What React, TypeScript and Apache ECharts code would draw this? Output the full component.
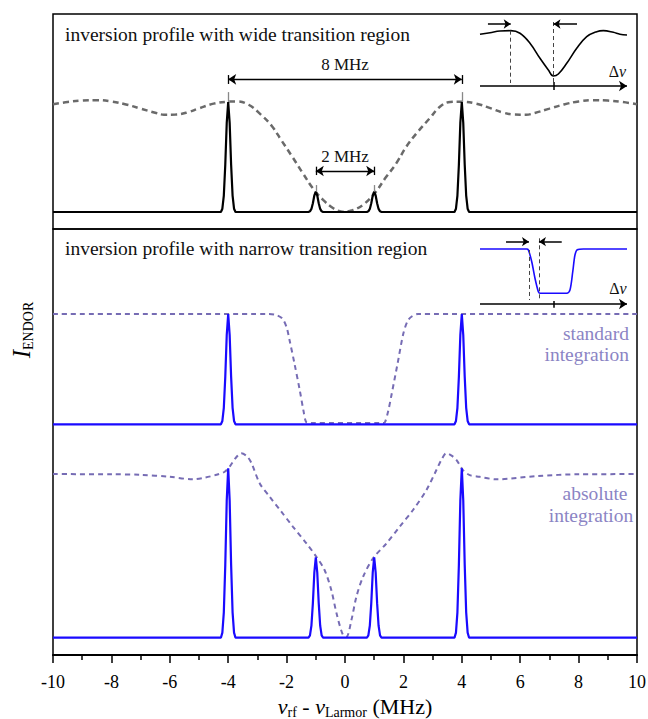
import React, { useEffect, useRef } from 'react';
import * as echarts from 'echarts';

const FONT = "'Liberation Serif', 'Times New Roman', serif";

// ENDOR spectra: [frequency offset (MHz), intensity]
const wideEndor: [number, number][] = [
  [-10, 0], [-4.25, 0], [-4.2, 0.03], [-4.15, 0.15], [-4.1, 0.43], [-4.05, 0.81], [-4, 1], [-3.95, 0.81], [-3.9, 0.43], [-3.85, 0.15], [-3.8, 0.03], [-3.75, 0],
  [-1.25, 0], [-1.2, 0.006], [-1.15, 0.028], [-1.1, 0.08], [-1.05, 0.15], [-1, 0.185], [-0.95, 0.15], [-0.9, 0.08], [-0.85, 0.028], [-0.8, 0.006], [-0.75, 0],
  [0.75, 0], [0.8, 0.006], [0.85, 0.028], [0.9, 0.08], [0.95, 0.15], [1, 0.185], [1.05, 0.15], [1.1, 0.08], [1.15, 0.028], [1.2, 0.006], [1.25, 0],
  [3.75, 0], [3.8, 0.03], [3.85, 0.15], [3.9, 0.43], [3.95, 0.81], [4, 1], [4.05, 0.81], [4.1, 0.43], [4.15, 0.15], [4.2, 0.03], [4.25, 0], [10, 0],
];

const narrowEndor: [number, number][] = [
  [-10, 0], [-4.25, 0], [-4.2, 0.03], [-4.15, 0.15], [-4.1, 0.43], [-4.05, 0.81], [-4, 1], [-3.95, 0.81], [-3.9, 0.43], [-3.85, 0.15], [-3.8, 0.03], [-3.75, 0],
  [3.75, 0], [3.8, 0.03], [3.85, 0.15], [3.9, 0.43], [3.95, 0.81], [4, 1], [4.05, 0.81], [4.1, 0.43], [4.15, 0.15], [4.2, 0.03], [4.25, 0], [10, 0],
];

const absoluteEndor: [number, number][] = [
  [-10, 0], [-4.25, 0], [-4.2, 0.03], [-4.15, 0.15], [-4.1, 0.43], [-4.05, 0.81], [-4, 1], [-3.95, 0.81], [-3.9, 0.43], [-3.85, 0.15], [-3.8, 0.03], [-3.75, 0],
  [-1.25, 0], [-1.2, 0.014], [-1.15, 0.071], [-1.1, 0.204], [-1.05, 0.385], [-1, 0.475], [-0.95, 0.385], [-0.9, 0.204], [-0.85, 0.071], [-0.8, 0.014], [-0.75, 0],
  [0.75, 0], [0.8, 0.014], [0.85, 0.071], [0.9, 0.204], [0.95, 0.385], [1, 0.475], [1.05, 0.385], [1.1, 0.204], [1.15, 0.071], [1.2, 0.014], [1.25, 0],
  [3.75, 0], [3.8, 0.03], [3.85, 0.15], [3.9, 0.43], [3.95, 0.81], [4, 1], [4.05, 0.81], [4.1, 0.43], [4.15, 0.15], [4.2, 0.03], [4.25, 0], [10, 0],
];

// Inversion profiles (dashed)
const wideProfile: [number, number][] = [
  [-10, 0.98], [-9.5, 1.0], [-9, 1.013], [-8.5, 1.017], [-8, 1.005], [-7.5, 0.978], [-7, 0.94], [-6.5, 0.902], [-6.2, 0.885], [-5.8, 0.886],
  [-5.4, 0.905], [-5, 0.942], [-4.5, 0.985], [-4, 1.003], [-3.7, 1.005], [-3.3, 0.975], [-2.9, 0.89], [-2.5, 0.78], [-2.2, 0.66], [-1.8, 0.5],
  [-1.45, 0.355], [-1.1, 0.215], [-0.75, 0.11], [-0.4, 0.034], [-0.1, 0.003], [0.25, 0.016], [0.6, 0.062], [1.0, 0.165], [1.4, 0.315], [1.75, 0.44],
  [2.1, 0.594], [2.45, 0.715], [2.9, 0.852], [3.25, 0.957], [3.6, 1.0], [4.0, 1.003], [4.5, 0.985], [5, 0.942], [5.4, 0.905], [5.8, 0.886],
  [6.2, 0.885], [6.5, 0.9], [7, 0.94], [7.5, 0.978], [8, 1.005], [8.5, 1.017], [9, 1.013], [9.5, 1.0], [10, 0.98],
];

const standardProfile: [number, number][] = [
  [-10, 1], [-2.6, 1], [-2.35, 0.99], [-2.15, 0.96], [-2.0, 0.88], [-1.9, 0.765], [-1.73, 0.55], [-1.55, 0.31], [-1.42, 0.12], [-1.33, 0.02],
  [-1.2, 0.012], [1.3, 0.012], [1.37, 0.02], [1.48, 0.12], [1.58, 0.25], [1.8, 0.55], [2.0, 0.825], [2.15, 0.94], [2.3, 0.98], [2.5, 1.0], [10, 1],
];

const absoluteProfile: [number, number][] = [
  [-10, 0.966], [-8, 0.965], [-7, 0.962], [-6, 0.95], [-5.2, 0.935], [-4.8, 0.945], [-4.4, 0.962], [-4.12, 0.98], [-3.95, 1.01], [-3.75, 1.06],
  [-3.55, 1.089], [-3.35, 1.07], [-3.2, 1.03], [-2.92, 0.911], [-2.58, 0.832], [-2.18, 0.744], [-1.78, 0.655], [-1.32, 0.557], [-0.98, 0.478], [-0.7, 0.4],
  [-0.47, 0.282], [-0.29, 0.144], [-0.07, 0.016], [0.05, 0.006], [0.22, 0.104], [0.39, 0.242], [0.62, 0.36], [0.96, 0.469], [1.42, 0.557], [1.87, 0.655],
  [2.33, 0.754], [2.79, 0.872], [3.13, 0.99], [3.3, 1.05], [3.47, 1.089], [3.65, 1.075], [3.82, 1.049], [4.04, 0.99], [4.27, 0.96], [4.61, 0.95],
  [5.2, 0.935], [6.6, 0.955], [8, 0.965], [10, 0.966],
];

// Inset sketches (arbitrary units 0..10)
const wideInset: [number, number][] = [
  [0, 7.74], [0.68, 7.96], [1.36, 8.19], [2.09, 8.24], [2.72, 7.88], [3.4, 6.49], [4.08, 4.4], [4.65, 2.78], [4.99, 1.94], [5.33, 2.22],
  [5.9, 3.71], [6.58, 5.79], [7.26, 7.4], [7.94, 8.1], [8.39, 8.24], [9.07, 8.01], [9.52, 7.74], [10, 7.64],
];

const narrowInset: [number, number][] = [
  [0, 8.19], [3.18, 8.19], [3.29, 8.06], [3.52, 6.43], [3.74, 4.13], [3.97, 2.26], [4.08, 2.04], [5.9, 2.04], [6.12, 2.5], [6.31, 5.04],
  [6.46, 7.36], [6.62, 8.1], [7.03, 8.19], [10, 8.19],
];

const panelTitles = ['inversion profile with wide transition region', 'inversion profile with narrow transition region'];
const spacingLabels = ['8 MHz', '2 MHz'];
const integrationLabels = [['standard', 'integration'], ['absolute', 'integration']];

const BLUE = '#1a0aff';
const PURPLE = '#766cb4';
const PURPLE_TEXT = '#8b84c4';
const GRAY = '#6a6a6a';

const seg = (x1: number, y1: number, x2: number, y2: number, style: any, start = 'none', end = 'none', size = 8) => [
  { coord: [x1, y1], symbol: start, symbolSize: size, lineStyle: style },
  { coord: [x2, y2], symbol: end, symbolSize: size, lineStyle: style },
];

const mk = (data: any[]) => ({
  silent: true,
  symbol: ['none', 'none'],
  label: { show: false },
  emphasis: { disabled: true },
  animation: false,
  data,
});

export default function App() {
  const ref = useRef<HTMLDivElement>(null);
  useEffect(() => {
    if (!ref.current) return;
    const chart = echarts.init(ref.current, null, { renderer: 'svg' });
    const solid = { color: '#000', width: 1.3, type: 'solid' };
    const conn = { color: '#888', width: 1.3, type: 'solid' };
    const guide = { color: '#444', width: 1, type: [4, 3] };
    const axisSt = { color: '#000', width: 1.5, type: 'solid' };

    const hiddenX = (g: number, min: number, max: number) => ({ type: 'value', gridIndex: g, min, max, show: false });
    const hiddenY = (g: number, min: number, max: number) => ({ type: 'value', gridIndex: g, min, max, show: false });

    const txt = (x: number, y: number, text: string, size: number, fill: string, align: string) => ({
      type: 'text', x, y, silent: true,
      style: { text, fill, fontFamily: FONT, fontSize: size, align, verticalAlign: 'middle', textAlign: align, textVerticalAlign: 'middle' },
    });

    const g = (left: number, top: number, width: number, height: number, show: boolean) => ({
      left, top, width, height, show, containLabel: false, outerBoundsMode: 'none',
      borderColor: '#000', borderWidth: 1.5, backgroundColor: 'transparent',
    });

    const option: any = {
      animation: false,
      textStyle: { fontFamily: FONT },
      grid: [
        g(53, 14, 584, 215, true),
        g(53, 229, 584, 426, true),
        g(53, 229, 584, 426, false),
        g(480, 18, 147, 72, false),
        g(480, 236, 147, 72, false),
      ],
      xAxis: [
        hiddenX(0, -10, 10),
        {
          type: 'value', gridIndex: 1, min: -10, max: 10, interval: 2,
          axisLine: { show: true, onZero: false, lineStyle: { color: '#000', width: 2 } },
          axisTick: { show: true, inside: false, length: 8, lineStyle: { color: '#000', width: 1.5 } },
          minorTick: { show: true, splitNumber: 2, length: 5, lineStyle: { color: '#000', width: 1.5 } },
          splitLine: { show: false },
          minorSplitLine: { show: false },
          axisLabel: { fontFamily: FONT, fontSize: 18, color: '#000', margin: 18 },
          name: '{v|ν}{s|rf}{n| - }{v|ν}{s|Larmor}{n| (MHz)}',
          nameLocation: 'middle',
          nameGap: 37,
          nameTextStyle: {
            fontFamily: FONT, fontSize: 22, color: '#000', padding: [0, 0, 0, 20],
            rich: {
              v: { fontFamily: FONT, fontSize: 22, fontStyle: 'italic', color: '#000', lineHeight: 26 },
              s: { fontFamily: FONT, fontSize: 14, color: '#000', lineHeight: 13, verticalAlign: 'bottom' },
              n: { fontFamily: FONT, fontSize: 22, color: '#000', lineHeight: 26 },
            },
          },
        },
        hiddenX(2, -10, 10),
        hiddenX(3, 0, 10),
        hiddenX(4, 0, 10),
      ],
      yAxis: [
        hiddenY(0, -0.1545, 1.8),
        hiddenY(1, -2.092, 1.771),
        hiddenY(2, -0.102, 2.413),
        hiddenY(3, 0, 10),
        hiddenY(4, 0, 10),
      ],
      series: [
        {
          type: 'line', xAxisIndex: 0, yAxisIndex: 0, data: wideProfile, symbol: 'none', smooth: 0.4, silent: true,
          lineStyle: { color: GRAY, width: 2.5, type: [6, 4] },
        },
        {
          type: 'line', xAxisIndex: 0, yAxisIndex: 0, data: wideEndor, symbol: 'none', silent: true,
          lineStyle: { color: '#000', width: 2.2 },
          markLine: mk([
            seg(-4, 1.206, 4, 1.206, solid, 'arrow', 'arrow', 8),
            seg(-4, 1.245, -4, 1.164, solid),
            seg(4, 1.245, 4, 1.164, solid),
            seg(-4, 1.09, -4, 1.0, conn),
            seg(4, 1.09, 4, 1.0, conn),
            seg(-1, 0.373, 1, 0.373, solid, 'arrow', 'arrow', 8),
            seg(-1, 0.412, -1, 0.336, solid),
            seg(1, 0.412, 1, 0.336, solid),
            seg(-1, 0.245, -1, 0.185, conn),
            seg(1, 0.245, 1, 0.185, conn),
          ]),
        },
        {
          type: 'line', xAxisIndex: 1, yAxisIndex: 1, data: standardProfile, symbol: 'none', smooth: 0.3, silent: true,
          lineStyle: { color: PURPLE, width: 2, type: [5, 4] },
        },
        {
          type: 'line', xAxisIndex: 1, yAxisIndex: 1, data: narrowEndor, symbol: 'none', silent: true,
          lineStyle: { color: BLUE, width: 2.2 },
        },
        {
          type: 'line', xAxisIndex: 2, yAxisIndex: 2, data: absoluteProfile, symbol: 'none', smooth: 0.3, silent: true,
          lineStyle: { color: PURPLE, width: 2, type: [5, 4] },
        },
        {
          type: 'line', xAxisIndex: 2, yAxisIndex: 2, data: absoluteEndor, symbol: 'none', silent: true,
          lineStyle: { color: BLUE, width: 2.2 },
        },
        {
          type: 'line', xAxisIndex: 3, yAxisIndex: 3, data: wideInset, symbol: 'none', smooth: 0.4, silent: true,
          lineStyle: { color: '#000', width: 1.6 },
          markLine: mk([
            seg(0, 0.56, 10, 0.56, axisSt, 'none', 'arrow', 8),
            seg(5, 1.11, 5, 0, axisSt),
            seg(2.09, 8.24, 2.09, 0.97, guide),
            seg(5, 9.44, 5, 0.83, guide),
            seg(0.54, 9.17, 2.09, 9.17, axisSt, 'none', 'arrow', 7),
            seg(6.6, 9.17, 5.0, 9.17, axisSt, 'none', 'arrow', 7),
          ]),
        },
        {
          type: 'line', xAxisIndex: 4, yAxisIndex: 4, data: narrowInset, symbol: 'none', smooth: 0.3, silent: true,
          lineStyle: { color: BLUE, width: 1.6 },
          markLine: mk([
            seg(0, 0.56, 10, 0.56, axisSt, 'none', 'arrow', 8),
            seg(5.03, 0.97, 5.03, 0.04, axisSt),
            seg(3.33, 8.06, 3.33, 1.11, guide),
            seg(4.01, 9.68, 4.01, 0.97, guide),
            seg(1.77, 9.21, 3.33, 9.21, axisSt, 'none', 'arrow', 7),
            seg(5.56, 9.21, 4.01, 9.21, axisSt, 'none', 'arrow', 7),
          ]),
        },
      ],
      graphic: {
        elements: [
          txt(65, 34.4, panelTitles[0], 19.5, '#111', 'left'),
          txt(65, 248.4, panelTitles[1], 19.5, '#111', 'left'),
          txt(345, 64.3, spacingLabels[0], 17, '#111', 'center'),
          txt(345, 156, spacingLabels[1], 17, '#111', 'center'),
          txt(629, 333.6, integrationLabels[0][0], 19.5, PURPLE_TEXT, 'right'),
          txt(629, 354.3, integrationLabels[0][1], 19.5, PURPLE_TEXT, 'right'),
          txt(595, 493.6, integrationLabels[1][0], 19.5, PURPLE_TEXT, 'center'),
          txt(591, 515.3, integrationLabels[1][1], 19.5, PURPLE_TEXT, 'center'),
          { type: 'text', x: 617.5, y: 71, silent: true, style: { text: 'Δ{i|ν}', rich: { i: { fontFamily: FONT, fontSize: 16, fontStyle: 'italic', fill: '#111' } }, fill: '#111', fontFamily: FONT, fontSize: 16, align: 'center', verticalAlign: 'middle', textAlign: 'center', textVerticalAlign: 'middle' } },
          { type: 'text', x: 618, y: 288, silent: true, style: { text: 'Δ{i|ν}', rich: { i: { fontFamily: FONT, fontSize: 16, fontStyle: 'italic', fill: '#111' } }, fill: '#111', fontFamily: FONT, fontSize: 16, align: 'center', verticalAlign: 'middle', textAlign: 'center', textVerticalAlign: 'middle' } },
          {
            type: 'text', x: 21, y: 330, rotation: Math.PI / 2, silent: true,
            style: {
              text: '{m|I}{s|ENDOR}', fill: '#000', fontFamily: FONT, fontSize: 24,
              align: 'center', verticalAlign: 'middle', textAlign: 'center', textVerticalAlign: 'middle',
              rich: {
                m: { fontFamily: FONT, fontSize: 25, fontStyle: 'italic', fill: '#000', lineHeight: 28 },
                s: { fontFamily: FONT, fontSize: 14, fill: '#000', lineHeight: 10, verticalAlign: 'bottom' },
              },
            },
          },
        ],
      },
    };
    chart.setOption(option);
    return () => chart.dispose();
  }, []);
  return <div ref={ref} style={{ position: 'absolute', left: 0, top: 0, width: 648, height: 719 }} />;
}
